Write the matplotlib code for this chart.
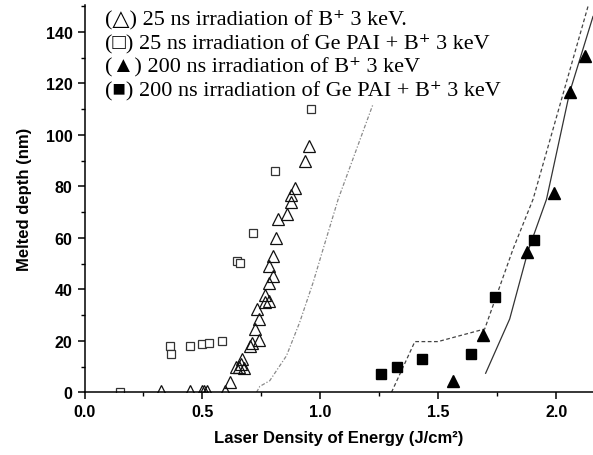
import matplotlib

matplotlib.use("Agg")

import matplotlib.pyplot as plt
from matplotlib.ticker import MultipleLocator

# 25 ns, B+ 3 keV (open triangles)
tri25_x = [0.326, 0.449, 0.496, 0.505, 0.520, 0.597, 0.616, 0.644, 0.654, 0.664,
           0.669, 0.676, 0.703, 0.708, 0.723, 0.738, 0.739, 0.729, 0.767, 0.781,
           0.763, 0.782, 0.799, 0.782, 0.799, 0.813, 0.820, 0.860, 0.876, 0.876,
           0.892, 0.935, 0.950]
tri25_y = [0.5, 0.5, 0.5, 0.5, 0.5, 0.5, 3.9, 9.7, 9.7, 11.0,
           12.9, 9.4, 18.1, 19.0, 24.5, 20.4, 28.3, 32.2, 34.9, 35.3,
           37.8, 42.3, 45.3, 48.9, 53.0, 59.8, 67.3, 69.1, 74.0, 76.6,
           79.4, 89.7, 95.5]

# 25 ns, Ge PAI + B+ 3 keV (open squares)
sq25_x = [0.152, 0.361, 0.366, 0.449, 0.500, 0.528, 0.583, 0.647, 0.658, 0.716,
          0.809, 0.958]
sq25_y = [0.2, 17.9, 14.9, 18.0, 18.9, 19.3, 19.9, 50.9, 50.1, 62.0,
          86.0, 110.0]

# 200 ns, B+ 3 keV (filled triangles)
tri200_x = [1.563, 1.689, 1.877, 1.990, 2.059, 2.120]
tri200_y = [4.4, 22.4, 54.4, 77.4, 116.5, 130.7]

# 200 ns, Ge PAI + B+ 3 keV (filled squares)
sq200_x = [1.257, 1.325, 1.432, 1.640, 1.740, 1.905]
sq200_y = [7.0, 9.9, 12.9, 14.8, 36.9, 59.1]

# simulated melt depth curves
sim25_x = [0.729, 0.743, 0.785, 0.856, 0.912, 0.969, 1.011, 1.075, 1.223]
sim25_y = [0.0, 2.3, 4.5, 14.2, 27.2, 42.7, 55.6, 75.0, 112.0]

sim200_pai_x = [1.301, 1.400, 1.498, 1.696, 1.816, 1.901, 2.134]
sim200_pai_y = [0.0, 19.7, 19.7, 24.6, 55.6, 75.0, 150.0]

sim200_b_x = [1.700, 1.802, 1.880, 1.958, 2.056, 2.155]
sim200_b_y = [7.4, 28.5, 55.0, 75.0, 116.5, 146.0]

legend_lines = [
    "(\u25b3) 25 ns irradiation of B\u207a 3 keV.",
    "(\u25a1) 25 ns irradiation of Ge PAI + B\u207a 3 keV",
    "(\u25b2) 200 ns irradiation of B\u207a 3 keV",
    "(\u25a0) 200 ns irradiation of Ge PAI + B\u207a 3 keV",
]

fig = plt.figure(figsize=(5.93, 4.56), dpi=100)
ax = fig.add_axes([0.1425, 0.1375, 0.8575, 0.8495])

ax.plot(sim25_x, sim25_y, color="#8a8a8a", linewidth=0.9, linestyle=(0, (3, 1.5, 1, 1.5)))
ax.plot(sim200_pai_x, sim200_pai_y, color="#444444", linewidth=0.9, linestyle=(0, (3, 2)))
ax.plot(sim200_b_x, sim200_b_y, color="#333333", linewidth=0.9, linestyle="-")

ax.plot(sq25_x, sq25_y, linestyle="none", marker="s", markersize=6,
        markerfacecolor="white", markeredgecolor="#333333", markeredgewidth=0.9)
ax.plot(tri25_x, tri25_y, linestyle="none", marker="^", markersize=8,
        markerfacecolor="none", markeredgecolor="#111111", markeredgewidth=0.9)
ax.plot(tri200_x, tri200_y, linestyle="none", marker="^", markersize=8.5,
        color="black")
ax.plot(sq200_x, sq200_y, linestyle="none", marker="s", markersize=6.5,
        color="black")

ax.set_xlim(0, 2.155)
ax.set_ylim(0, 150.5)
ax.xaxis.set_major_locator(MultipleLocator(0.5))
ax.xaxis.set_minor_locator(MultipleLocator(0.25))
ax.yaxis.set_major_locator(MultipleLocator(20))
ax.yaxis.set_minor_locator(MultipleLocator(10))
ax.xaxis.set_major_formatter(lambda v, pos: f"{v:.1f}")

for side in ("top", "right"):
    ax.spines[side].set_visible(False)
for side in ("left", "bottom"):
    ax.spines[side].set_linewidth(1.1)
ax.tick_params(which="major", direction="out", length=5, width=1.1,
               labelsize=11.5)
ax.tick_params(which="minor", direction="out", length=3, width=1.0)
for lab in ax.get_xticklabels() + ax.get_yticklabels():
    lab.set_fontweight("bold")
    lab.set_family("Liberation Sans")

ax.set_xlabel("Laser Density of Energy (J/cm\u00b2)", fontsize=12,
              fontweight="bold", family="Liberation Sans", labelpad=8)
ax.set_ylabel("Melted depth (nm)", fontsize=12, fontweight="bold",
              family="Liberation Sans", labelpad=10)

for i, line in enumerate(legend_lines):
    ax.text(0.040, 0.964 - i * 0.0607, line, transform=ax.transAxes,
            fontsize=16, family=["Liberation Serif", "DejaVu Serif"],
            va="center", ha="left")

fig.savefig("out.png", dpi=100)
